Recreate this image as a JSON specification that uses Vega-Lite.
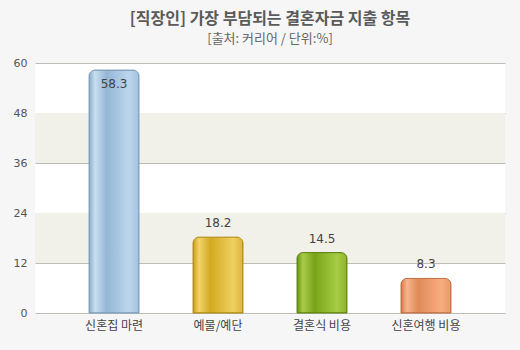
{
  "$schema": "https://vega.github.io/schema/vega-lite/v6.json",
  "width": 470,
  "height": 250,
  "autosize": {"type": "none"},
  "padding": {"left": 35, "top": 63, "right": 15, "bottom": 37},
  "background": "#f6f6f6",
  "view": {"fill": "white", "stroke": null},
  "title": {
    "text": "[직장인] 가장 부담되는 결혼자금 지출 항목",
    "subtitle": "[출처: 커리어 / 단위:%]",
    "anchor": "middle",
    "font": "Noto Sans CJK KR",
    "fontSize": 16,
    "fontWeight": "bold",
    "color": "#5a5a5a",
    "subtitleFont": "Noto Sans CJK KR",
    "subtitleFontSize": 13,
    "subtitleColor": "#666666",
    "subtitlePadding": 6,
    "offset": 11
  },
  "datasets": {
    "bars": [
      {"item": "신혼집 마련", "value": 58.3},
      {"item": "예물/예단", "value": 18.2},
      {"item": "결혼식 비용", "value": 14.5},
      {"item": "신혼여행 비용", "value": 8.3}
    ],
    "bands": [
      {"from": 12, "to": 24},
      {"from": 36, "to": 48}
    ]
  },
  "layer": [
    {
      "data": {"name": "bands"},
      "mark": {"type": "rect", "color": "#f1f1ea"},
      "encoding": {
        "y": {"field": "from", "type": "quantitative", "scale": {"domain": [0, 60]}},
        "y2": {"field": "to"}
      }
    },
    {
      "data": {"name": "bars"},
      "layer": [
        {
          "mark": {"type": "bar", "cornerRadiusTopLeft": 6, "cornerRadiusTopRight": 6, "strokeWidth": 1},
          "encoding": {
            "x": {
              "field": "item", "type": "nominal", "sort": null,
              "scale": {"paddingInner": 0.52, "paddingOuter": 0.52},
              "axis": {"title": null, "labelAngle": 0, "domain": false, "ticks": false, "labelFont": "Noto Sans CJK KR", "labelFontSize": 12, "labelColor": "#444444", "labelPadding": 7}
            },
            "y": {
              "field": "value", "type": "quantitative",
              "scale": {"domain": [0, 60]},
              "axis": {"title": null, "values": [0, 12, 24, 36, 48, 60], "domain": false, "ticks": false, "gridColor": "#bdbdb5", "gridOpacity": 1, "labelFont": "DejaVu Sans", "labelFontSize": 11, "labelColor": "#555555", "labelPadding": 8}
            },
            "color": {
              "condition": [
                {"test": "datum.item == '신혼집 마련'", "value": {"gradient": "linear", "x1": 0, "x2": 1, "y1": 0, "y2": 0, "stops": [{"offset": 0, "color": "#8aaccb"}, {"offset": 0.12, "color": "#c9dff0"}, {"offset": 0.35, "color": "#94b6d5"}, {"offset": 0.8, "color": "#bcd6ec"}, {"offset": 1, "color": "#a4c2de"}]}},
                {"test": "datum.item == '예물/예단'", "value": {"gradient": "linear", "x1": 0, "x2": 1, "y1": 0, "y2": 0, "stops": [{"offset": 0, "color": "#c99e14"}, {"offset": 0.12, "color": "#f2d468"}, {"offset": 0.35, "color": "#d2a921"}, {"offset": 0.8, "color": "#f0d060"}, {"offset": 1, "color": "#dbb638"}]}},
                {"test": "datum.item == '결혼식 비용'", "value": {"gradient": "linear", "x1": 0, "x2": 1, "y1": 0, "y2": 0, "stops": [{"offset": 0, "color": "#6a9410"}, {"offset": 0.12, "color": "#a9cc4a"}, {"offset": 0.35, "color": "#79a41a"}, {"offset": 0.8, "color": "#a8cc44"}, {"offset": 1, "color": "#8cb42c"}]}}
              ],
              "value": {"gradient": "linear", "x1": 0, "x2": 1, "y1": 0, "y2": 0, "stops": [{"offset": 0, "color": "#d77a48"}, {"offset": 0.12, "color": "#f6b48c"}, {"offset": 0.35, "color": "#e08a58"}, {"offset": 0.8, "color": "#f8ad80"}, {"offset": 1, "color": "#e9986a"}]}
            },
            "stroke": {
              "condition": [
                {"test": "datum.item == '신혼집 마련'", "value": "#7d9cbb"},
                {"test": "datum.item == '예물/예단'", "value": "#b08a10"},
                {"test": "datum.item == '결혼식 비용'", "value": "#5d820e"}
              ],
              "value": "#bf6c40"
            }
          }
        },
        {
          "transform": [{"filter": "datum.value > 50"}],
          "mark": {"type": "text", "baseline": "top", "dy": 9, "font": "DejaVu Sans", "fontSize": 12, "color": "#444444"},
          "encoding": {
            "x": {"field": "item", "type": "nominal", "sort": null},
            "y": {"field": "value", "type": "quantitative"},
            "text": {"field": "value", "type": "quantitative", "format": ".1f"}
          }
        },
        {
          "transform": [{"filter": "datum.value <= 50"}],
          "mark": {"type": "text", "baseline": "bottom", "dy": -7, "font": "DejaVu Sans", "fontSize": 12, "color": "#444444"},
          "encoding": {
            "x": {"field": "item", "type": "nominal", "sort": null},
            "y": {"field": "value", "type": "quantitative"},
            "text": {"field": "value", "type": "quantitative", "format": ".1f"}
          }
        }
      ]
    }
  ]
}
